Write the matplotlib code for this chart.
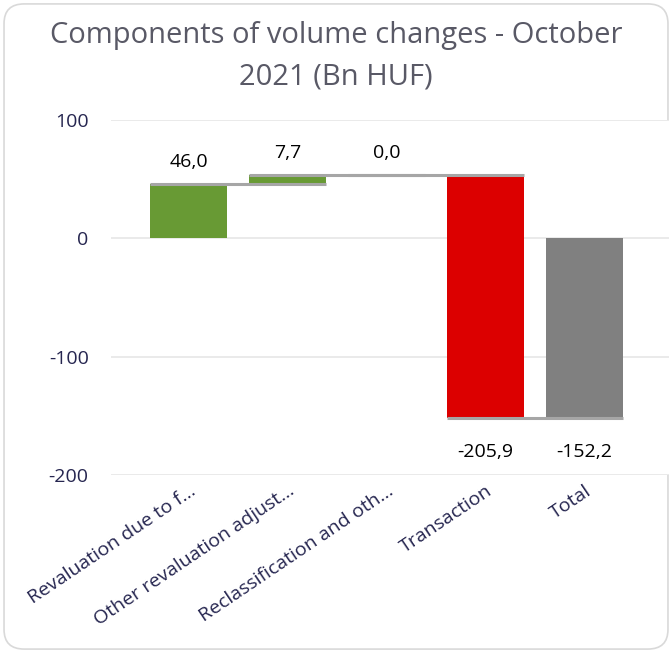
import matplotlib
matplotlib.use("Agg")
import matplotlib.pyplot as plt
import matplotlib.transforms as mtransforms
from matplotlib.patches import FancyBboxPatch
import numpy as np

plt.rcParams['font.family'] = ['Open Sans', 'DejaVu Sans']

categories = ["Revaluation due to f...", "Other revaluation adjust...",
              "Reclassification and oth...", "Transaction", "Total"]
changes = [46.0, 7.7, 0.0, -205.9]
total_value = -152.2
label_texts = ["46,0", "7,7", "0,0", "-205,9", "-152,2"]
yticks = [100, 0, -100, -200]

green = "#689a34"
red = "#dc0000"
gray = "#808080"
conn = "#a6a6a6"
navy = "#262650"

fig = plt.figure(figsize=(6.72, 6.53), dpi=100)
fig.patch.set_facecolor("white")
border = FancyBboxPatch((0.006, 0.006), 0.988, 0.988, boxstyle="round,pad=0,rounding_size=0.03",
                        transform=fig.transFigure, facecolor="white", edgecolor="#d9d9d9",
                        linewidth=1.2, zorder=-10)
fig.patches.append(border)

ax = fig.add_axes([0.165, 0.2726, 0.83, 0.5436])
ax.set_ylim(-200, 100)
ax.set_xlim(-0.787, 4.85)

x = np.arange(len(categories))
w = 0.78
cum = np.concatenate([[0], np.cumsum(changes)])
starts = cum[:-1]
ends = cum[1:]
colors = [green if c > 0 else (red if c < 0 else gray) for c in changes]
for i, c in enumerate(changes):
    ax.bar(x[i], ends[i] - starts[i], bottom=starts[i], width=w, color=colors[i], zorder=2)
ax.bar(x[4], total_value, bottom=0, width=w, color=gray, zorder=2)

# connectors
levels = list(ends)
for i in range(4):
    ax.plot([x[i] - w / 2, x[i + 1] + w / 2], [levels[i], levels[i]], color=conn, lw=2.2,
            zorder=3, solid_capstyle="butt")

# data labels
tops = [max(s, e) for s, e in zip(starts, ends)] + [0]
bottoms = [min(s, e) for s, e in zip(starts, ends)] + [total_value]
vals = changes + [total_value]
for i, v in enumerate(vals):
    if v >= 0:
        ax.annotate(label_texts[i], (x[i], tops[i]), xytext=(0, 12), textcoords="offset points",
                    ha="center", va="baseline", fontsize=14, color="black")
    else:
        ax.annotate(label_texts[i], (x[i], bottoms[i]), xytext=(0, -27.6), textcoords="offset points",
                    ha="center", va="baseline", fontsize=14, color="black")

ax.set_yticks(yticks)
ax.set_yticklabels([str(t) for t in yticks], color=navy, fontsize=14)
ax.set_xticks(x)
ax.set_xticklabels(categories, rotation=34, ha="right", rotation_mode="anchor",
                   color=navy, fontsize=14)
shift = mtransforms.ScaledTranslation(-5 / 72, 0, fig.dpi_scale_trans)
for lbl in ax.get_xticklabels():
    lbl.set_transform(lbl.get_transform() + shift)
ax.tick_params(axis="y", length=0, pad=16)
ax.tick_params(axis="x", length=0, pad=5)
ax.grid(axis="y", color="#e6e6e6", lw=1.2, zorder=0)
ax.set_axisbelow(True)
for s in ax.spines.values():
    s.set_visible(False)

fig.text(0.5, 0.945, "Components of volume changes - October", ha="center", va="center",
         fontsize=21, color="#595966")
fig.text(0.5, 0.882, "2021 (Bn HUF)", ha="center", va="center",
         fontsize=21, color="#595966")

fig.savefig("out.png", dpi=100, facecolor="white")
